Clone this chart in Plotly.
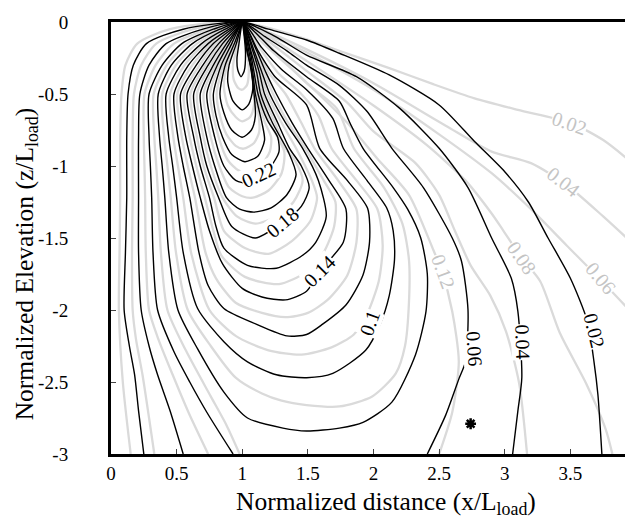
import plotly.graph_objects as go

# ===== black contour lines (x, y) =====
B02 = [(0.25,-3.0),(0.21,-2.7),(0.18,-2.45),(0.14,-2.25),(0.10,-2.0),(0.11,-1.6),(0.12,-1.22),(0.12,-0.8),(0.13,-0.5),(0.17,-0.3),(0.27,-0.15),(0.55,-0.05),(1,0),
       (1.2,-0.05),(1.49,-0.125),(1.74,-0.217),(2.12,-0.368),(2.50,-0.576),(2.77,-0.83),(3.0,-1.04),(3.18,-1.25),(3.33,-1.50),(3.50,-1.78),(3.63,-2.08),(3.68,-2.36),(3.71,-2.59),(3.74,-3.0)]
B04 = [(0.55,-3.0),(0.45,-2.7),(0.355,-2.45),(0.29,-2.25),(0.23,-2.0),(0.21,-1.6),(0.21,-1.22),(0.21,-0.8),(0.22,-0.5),(0.29,-0.3),(0.42,-0.15),(0.70,-0.05),(1,0),
       (1.25,-0.1),(1.49,-0.23),(1.87,-0.38),(2.2,-0.6),(2.50,-0.877),(2.72,-1.15),(2.90,-1.50),(3.05,-1.78),(3.10,-2.01),(3.13,-2.47),(3.10,-2.70),(3.06,-3.0)]
B06 = [(0.93,-3.0),(0.73,-2.71),(0.60,-2.5),(0.48,-2.29),(0.355,-2.0),(0.32,-1.6),(0.31,-1.22),(0.30,-1.0),(0.29,-0.8),(0.29,-0.5),(0.39,-0.3),(0.54,-0.15),(0.78,-0.05),(1,0),
       (1.17,-0.1),(1.34,-0.2),(1.49,-0.30),(1.74,-0.44),(1.95,-0.62),(2.14,-0.877),(2.38,-1.15),(2.60,-1.50),(2.67,-1.66),(2.72,-2.0),(2.70,-2.36),(2.65,-2.48),(2.55,-2.73),(2.41,-3.0)]
B08 = [(1,0),(0.83,-0.05),(0.62,-0.15),(0.46,-0.3),(0.36,-0.5),(0.37,-0.8),(0.39,-1.0),(0.41,-1.22),(0.44,-1.6),(0.51,-2.0),(0.66,-2.27),(0.86,-2.57),(1.04,-2.75),(1.31,-2.82),
       (1.49,-2.84),(1.74,-2.82),(1.92,-2.78),(2.14,-2.64),(2.32,-2.31),(2.40,-2.01),(2.41,-1.75),(2.36,-1.50),(2.26,-1.3),(2.15,-1.15),(1.92,-0.877),(1.82,-0.7),(1.74,-0.55),(1.49,-0.38),(1.24,-0.2),(1.13,-0.1),(1,0)]
B10 = [(1,0),(0.87,-0.05),(0.69,-0.15),(0.53,-0.3),(0.42,-0.5),(0.44,-0.8),(0.47,-1.0),(0.50,-1.22),(0.55,-1.6),(0.66,-1.99),(0.86,-2.22),(1.04,-2.36),(1.26,-2.45),(1.49,-2.47),
       (1.69,-2.44),(1.94,-2.28),(2.05,-2.1),(2.12,-1.9),(2.16,-1.65),(2.15,-1.45),(2.10,-1.29),(1.95,-1.1),(1.77,-0.877),(1.69,-0.67),(1.49,-0.47),(1.30,-0.33),(1.15,-0.18),(1,0)]
B12 = [(1,0),(0.90,-0.05),(0.74,-0.15),(0.59,-0.3),(0.48,-0.5),(0.51,-0.8),(0.55,-1.0),(0.60,-1.22),(0.67,-1.6),(0.74,-1.83),(0.86,-1.99),(1.11,-2.10),(1.34,-2.18),(1.49,-2.17),
       (1.61,-2.10),(1.79,-1.965),(1.92,-1.757),(1.97,-1.525),(1.955,-1.294),(1.80,-1.1),(1.59,-0.877),(1.49,-0.576),(1.25,-0.38),(1.12,-0.2),(1,0)]
B14 = [(1,0),(0.92,-0.05),(0.78,-0.15),(0.65,-0.3),(0.53,-0.5),(0.57,-0.8),(0.62,-1.0),(0.68,-1.22),(0.75,-1.45),(0.85,-1.68),(1.0,-1.85),(1.15,-1.91),(1.33,-1.93),(1.49,-1.87),
       (1.59,-1.73),(1.77,-1.53),(1.79,-1.3),(1.66,-1.1),(1.50,-0.877),(1.38,-0.7),(1.26,-0.5),(1.18,-0.35),(1.11,-0.2),(1,0)]
B16 = [(1,0),(0.935,-0.05),(0.82,-0.15),(0.70,-0.3),(0.58,-0.5),(0.63,-0.8),(0.68,-1.0),(0.75,-1.22),(0.80,-1.42),(0.86,-1.57),(1.04,-1.69),(1.26,-1.71),(1.46,-1.62),(1.56,-1.53),
       (1.64,-1.35),(1.58,-1.1),(1.46,-0.877),(1.33,-0.7),(1.21,-0.5),(1.15,-0.35),(1.09,-0.2),(1,0)]
B18 = [(1,0),(0.95,-0.05),(0.85,-0.15),(0.74,-0.3),(0.63,-0.5),(0.68,-0.8),(0.73,-1.0),(0.82,-1.22),(0.92,-1.42),(1.1,-1.50),(1.31,-1.39),(1.45,-1.28),(1.51,-1.15),
       (1.45,-1.0),(1.36,-0.877),(1.27,-0.7),(1.17,-0.5),(1.13,-0.35),(1.08,-0.2),(1,0)]
B20 = [(1,0),(0.96,-0.05),(0.88,-0.15),(0.78,-0.3),(0.68,-0.5),(0.73,-0.8),(0.79,-1.0),(0.88,-1.22),(0.98,-1.30),(1.09,-1.32),(1.22,-1.29),(1.34,-1.2),(1.41,-1.06),
       (1.35,-0.9),(1.23,-0.7),(1.14,-0.5),(1.11,-0.35),(1.065,-0.2),(1,0)]
B22 = [(1,0),(0.965,-0.05),(0.90,-0.15),(0.81,-0.3),(0.73,-0.5),(0.79,-0.8),(0.86,-1.0),(0.95,-1.1),(1.05,-1.12),(1.13,-1.07),(1.22,-1.0),(1.28,-0.9),(1.27,-0.8),
       (1.19,-0.68),(1.12,-0.5),(1.09,-0.35),(1.06,-0.2),(1,0)]
B24 = [(1,0),(0.97,-0.05),(0.92,-0.15),(0.84,-0.3),(0.78,-0.5),(0.80,-0.65),(0.85,-0.8),(0.92,-0.92),(1.02,-0.97),(1.12,-0.93),(1.17,-0.82),(1.15,-0.7),(1.10,-0.5),(1.08,-0.35),(1.05,-0.2),(1,0)]
B26 = [(1,0),(0.98,-0.05),(0.94,-0.15),(0.87,-0.3),(0.83,-0.5),(0.86,-0.63),(0.92,-0.75),(1.0,-0.80),(1.07,-0.75),(1.10,-0.65),(1.09,-0.5),(1.07,-0.35),(1.04,-0.2),(1,0)]
B28 = [(1,0),(0.985,-0.05),(0.955,-0.15),(0.90,-0.3),(0.89,-0.42),(0.93,-0.55),(1.0,-0.61),(1.05,-0.57),(1.08,-0.47),(1.07,-0.33),(1.035,-0.2),(1,0)]
B30 = [(1,0),(0.99,-0.05),(0.975,-0.15),(0.96,-0.25),(0.965,-0.33),(0.99,-0.38),(1.015,-0.34),(1.025,-0.22),(1.015,-0.1),(1,0)]

# ===== grey contour lines =====
G02 = [(1,0),(1.2,-0.04),(1.49,-0.12),(1.8,-0.22),(2.12,-0.32),(2.45,-0.43),(2.77,-0.53),(3.1,-0.61),(3.5,-0.70),(3.75,-0.82),(4.0,-1.0)]
G04 = [(1,0),(1.2,-0.07),(1.49,-0.19),(1.99,-0.42),(2.55,-0.72),(2.9,-0.9),(3.2,-0.98),(3.47,-1.13),(3.75,-1.35),(4.0,-1.56)]
G06 = [(0.15,-3.0),(0.09,-2.5),(0.06,-2.0),(0.065,-1.6),(0.07,-1.22),(0.07,-0.8),(0.08,-0.5),(0.11,-0.3),(0.20,-0.15),(0.45,-0.05),(1,0),
       (1.2,-0.09),(1.49,-0.21),(2.0,-0.47),(2.5,-0.78),(2.9,-1.05),(3.2,-1.3),(3.47,-1.55),(3.73,-1.79),(4.0,-2.05)]
G08 = [(0.33,-3.0),(0.29,-2.75),(0.24,-2.45),(0.19,-2.2),(0.165,-2.0),(0.16,-1.6),(0.165,-1.22),(0.165,-0.8),(0.175,-0.5),(0.23,-0.3),(0.345,-0.15),(0.625,-0.05),(1,0),
       (1.2,-0.1),(1.49,-0.27),(2.0,-0.58),(2.4,-0.85),(2.7,-1.1),(2.9,-1.33),(2.99,-1.45),(3.13,-1.64),(3.27,-1.8),(3.42,-2.16),(3.62,-2.51),(3.77,-2.83),(3.82,-3.0)]
G10 = [(0.74,-3.0),(0.59,-2.71),(0.47,-2.45),(0.36,-2.2),(0.29,-2.0),(0.265,-1.6),(0.26,-1.22),(0.255,-1.0),(0.25,-0.8),(0.255,-0.5),(0.34,-0.3),(0.48,-0.15),(0.74,-0.05),(1,0),
       (1.18,-0.12),(1.49,-0.34),(1.8,-0.56),(2.0,-0.76),(2.32,-0.98),(2.5,-1.2),(2.62,-1.45),(2.74,-1.69),(2.89,-1.9),(3.01,-2.15),(3.11,-2.51),(3.17,-3.0)]
G12 = [(0.98,-3.0),(0.88,-2.8),(0.76,-2.6),(0.57,-2.28),(0.43,-2.0),(0.38,-1.6),(0.36,-1.22),(0.345,-1.0),(0.33,-0.8),(0.325,-0.5),(0.425,-0.3),(0.58,-0.15),(0.805,-0.05),(1,0),
       (1.15,-0.14),(1.49,-0.42),(1.8,-0.7),(2.03,-0.95),(2.27,-1.2),(2.45,-1.57),(2.52,-1.73),(2.60,-2.01),(2.65,-2.36),(2.60,-2.71),(2.50,-3.0)]
G14 = [(1,0),(0.85,-0.05),(0.655,-0.15),(0.495,-0.3),(0.39,-0.5),(0.405,-0.8),(0.43,-1.0),(0.455,-1.22),(0.495,-1.6),(0.585,-2.0),(0.76,-2.25),(0.95,-2.47),(1.15,-2.58),(1.30,-2.63),
       (1.49,-2.66),(1.74,-2.67),(1.99,-2.60),(2.17,-2.44),(2.24,-2.25),(2.27,-1.95),(2.27,-1.65),(2.22,-1.4),(2.08,-1.15),(1.85,-0.877),(1.72,-0.6),(1.49,-0.425),(1.19,-0.15),(1,0)]
G16 = [(1,0),(0.885,-0.05),(0.715,-0.15),(0.56,-0.3),(0.45,-0.5),(0.475,-0.8),(0.51,-1.0),(0.55,-1.22),(0.61,-1.6),(0.75,-2.0),(0.95,-2.18),(1.2,-2.28),(1.45,-2.31),(1.68,-2.26),
       (1.85,-2.17),(1.95,-2.03),(2.04,-1.8),(2.07,-1.55),(2.03,-1.3),(1.87,-1.1),(1.68,-0.877),(1.58,-0.65),(1.45,-0.5),(1.27,-0.35),(1.14,-0.19),(1,0)]
G18 = [(1,0),(0.91,-0.05),(0.76,-0.15),(0.62,-0.3),(0.505,-0.5),(0.54,-0.8),(0.585,-1.0),(0.64,-1.22),(0.72,-1.6),(0.80,-1.78),(0.95,-1.95),(1.15,-2.02),(1.33,-2.05),(1.5,-2.02),
       (1.65,-1.93),(1.8,-1.76),(1.87,-1.53),(1.87,-1.3),(1.73,-1.1),(1.55,-0.877),(1.45,-0.7),(1.33,-0.5),(1.2,-0.35),(1.12,-0.2),(1,0)]
G20 = [(1,0),(0.93,-0.05),(0.80,-0.15),(0.675,-0.3),(0.555,-0.5),(0.60,-0.8),(0.65,-1.0),(0.715,-1.22),(0.78,-1.45),(0.84,-1.62),(1.02,-1.77),(1.28,-1.82),(1.48,-1.74),(1.62,-1.6),
       (1.70,-1.42),(1.71,-1.25),(1.62,-1.1),(1.48,-0.877),(1.35,-0.7),(1.235,-0.5),(1.165,-0.35),(1.10,-0.2),(1,0)]
G22 = [(1,0),(0.94,-0.05),(0.835,-0.15),(0.72,-0.3),(0.605,-0.5),(0.655,-0.8),(0.705,-1.0),(0.785,-1.22),(0.86,-1.45),(1.02,-1.57),(1.2,-1.61),(1.38,-1.52),(1.52,-1.38),
       (1.57,-1.22),(1.53,-1.1),(1.41,-0.877),(1.30,-0.7),(1.19,-0.5),(1.14,-0.35),(1.085,-0.2),(1,0)]
G24 = [(1,0),(0.955,-0.05),(0.865,-0.15),(0.76,-0.3),(0.655,-0.5),(0.705,-0.8),(0.76,-1.0),(0.85,-1.22),(0.96,-1.35),(1.1,-1.40),(1.26,-1.35),(1.39,-1.25),(1.46,-1.1),
       (1.40,-0.96),(1.33,-0.877),(1.25,-0.7),(1.155,-0.5),(1.12,-0.35),(1.07,-0.2),(1,0)]
G26 = [(1,0),(0.96,-0.05),(0.89,-0.15),(0.795,-0.3),(0.705,-0.5),(0.76,-0.8),(0.825,-1.0),(0.90,-1.15),(1.0,-1.21),(1.08,-1.22),(1.2,-1.17),(1.3,-1.05),(1.32,-0.9),
       (1.21,-0.7),(1.13,-0.5),(1.10,-0.35),(1.06,-0.2),(1,0)]
G28 = [(1,0),(0.9675,-0.05),(0.91,-0.15),(0.825,-0.3),(0.755,-0.5),(0.82,-0.8),(0.89,-0.96),(0.97,-1.03),(1.05,-1.05),(1.14,-1.0),(1.21,-0.9),(1.22,-0.8),(1.17,-0.69),
       (1.11,-0.5),(1.085,-0.35),(1.055,-0.2),(1,0)]
G30 = [(1,0),(0.975,-0.05),(0.93,-0.15),(0.855,-0.3),(0.805,-0.5),(0.83,-0.65),(0.88,-0.78),(0.95,-0.86),(1.01,-0.88),(1.09,-0.84),(1.13,-0.76),(1.125,-0.65),(1.095,-0.5),
       (1.075,-0.35),(1.045,-0.2),(1,0)]
G32 = [(1,0),(0.9825,-0.05),(0.9475,-0.15),(0.885,-0.3),(0.86,-0.45),(0.89,-0.58),(0.95,-0.66),(1.0,-0.69),(1.06,-0.66),(1.09,-0.57),(1.085,-0.45),(1.07,-0.33),(1.038,-0.2),(1,0)]
G34 = [(1,0),(0.9875,-0.05),(0.965,-0.15),(0.93,-0.3),(0.935,-0.4),(0.97,-0.46),(1.0,-0.47),(1.035,-0.44),(1.05,-0.35),(1.04,-0.22),(1.02,-0.1),(1,0)]

BLACK = [B02,B04,B06,B08,B10,B12,B14,B16,B18,B20,B22,B24,B26,B28,B30]
GREY = [G02,G04,G06,G08,G10,G12,G14,G16,G18,G20,G22,G24,G26,G28,G30,G32,G34]

# ===== contour labels =====
LAB_TEXT = ["0.22","0.18","0.14","0.1","0.06","0.04","0.02","0.02","0.04","0.06","0.08","0.12"]
LAB_X = [1.12,1.31,1.59,1.97,2.77,3.14,3.68,3.49,3.45,3.73,3.13,2.53]
LAB_Y = [-1.06,-1.39,-1.73,-2.09,-2.27,-2.22,-2.14,-0.70,-1.11,-1.78,-1.64,-1.73]
LAB_ANG = [-25,-40,-45,-70,86,88,76,19,38,50,55,70]
LAB_GREY = [0,0,0,0,0,0,0,1,1,1,1,1]

STAR_X = [2.74]
STAR_Y = [-2.79]

XTICKS = [0,0.5,1,1.5,2,2.5,3,3.5,4]
XTICKTEXT = ["0","0.5","1","1.5","2","2.5","3","3.5","4"]
YTICKS = [0,-0.5,-1,-1.5,-2,-2.5,-3]
YTICKTEXT = ["0","-0.5","-1","-1.5","-2","-2.5","-3"]

FONT = "Liberation Serif, Times New Roman, serif"

fig = go.Figure()
for c in GREY:
    fig.add_trace(go.Scatter(x=[p[0] for p in c], y=[p[1] for p in c], mode="lines",
                             line=dict(color="#dadada", width=2.3, shape="spline", smoothing=0.7),
                             hoverinfo="skip", showlegend=False))
for c in BLACK:
    fig.add_trace(go.Scatter(x=[p[0] for p in c], y=[p[1] for p in c], mode="lines",
                             line=dict(color="black", width=1.4, shape="spline", smoothing=0.7),
                             hoverinfo="skip", showlegend=False))
fig.add_trace(go.Scatter(x=STAR_X, y=STAR_Y, mode="markers",
                         marker=dict(symbol="asterisk", size=9, line=dict(color="black", width=2.5)),
                         hoverinfo="skip", showlegend=False))

for t, x, y, a, g in zip(LAB_TEXT, LAB_X, LAB_Y, LAB_ANG, LAB_GREY):
    fig.add_annotation(x=x, y=y, text=t, textangle=a, showarrow=False,
                       font=dict(family=FONT, size=20, color="#c4c4c4" if g else "black"),
                       bgcolor="white", borderpad=0)

# axis titles
fig.add_annotation(xref="paper", yref="paper", x=0.5246, y=-0.113, xanchor="center", yanchor="middle",
                   text="Normalized distance (x/L<sub>load</sub>)", showarrow=False,
                   font=dict(family=FONT, size=25.5, color="black"))
fig.add_annotation(xref="paper", yref="paper", x=-0.163, y=0.44, xanchor="center", yanchor="middle",
                   text="Normalized Elevation (z/L<sub>load</sub>)", textangle=-90, showarrow=False,
                   font=dict(family=FONT, size=25.5, color="black"))

fig.update_layout(
    width=633, height=520,
    margin=dict(l=103, r=2, t=14, b=74),
    paper_bgcolor="white", plot_bgcolor="white",
    font=dict(family=FONT, size=19, color="black"),
    xaxis=dict(range=[0, 4], tickvals=XTICKS, ticktext=XTICKTEXT, ticks="inside", ticklen=5,
               tickwidth=1.3, showline=True, linewidth=3, linecolor="black", mirror=True,
               showgrid=False, zeroline=False, ticklabelstandoff=0),
    yaxis=dict(range=[-3, 0], tickvals=YTICKS, ticktext=YTICKTEXT, ticks="inside", ticklen=5,
               tickwidth=1.3, showline=True, linewidth=3, linecolor="black", mirror=True,
               showgrid=False, zeroline=False, ticklabelstandoff=36),
)
fig.write_html("out.html")
